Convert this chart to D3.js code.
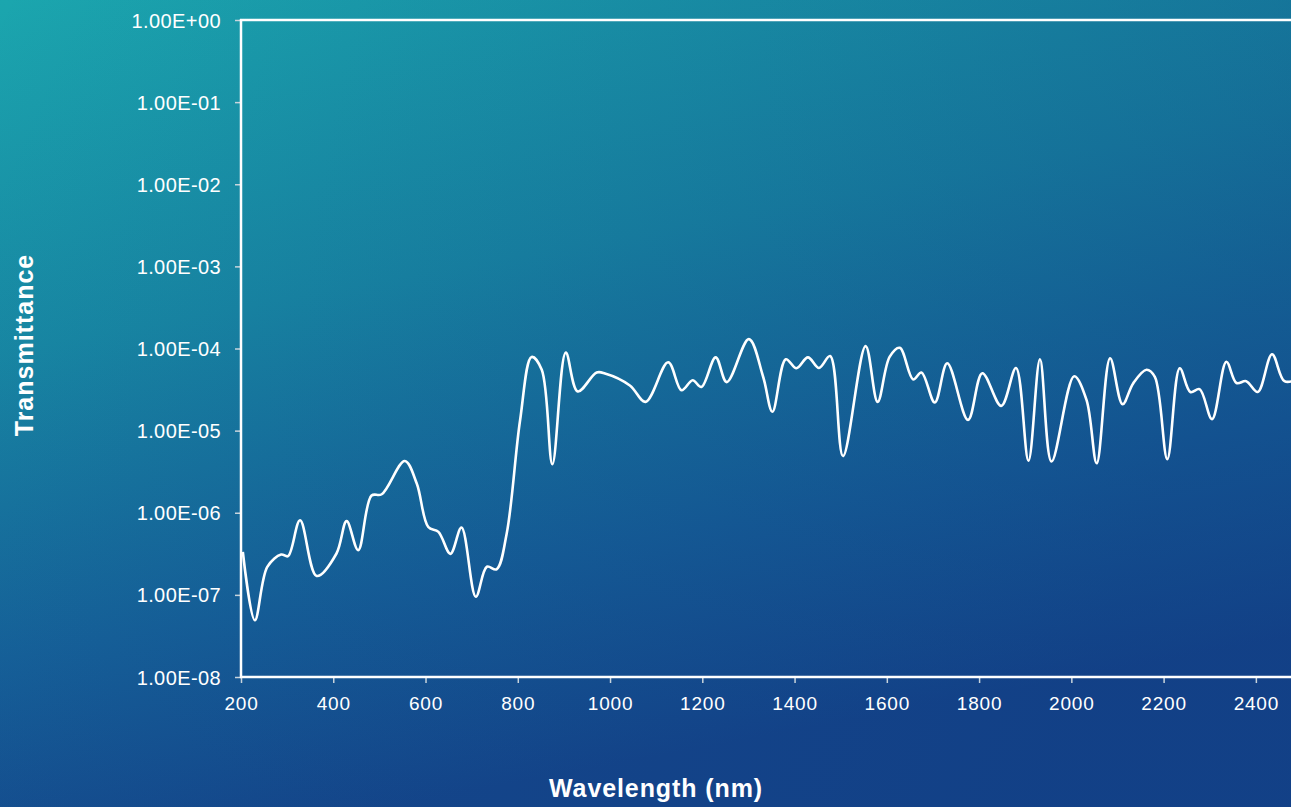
<!DOCTYPE html>
<html><head><meta charset="utf-8">
<script src="https://cdn.jsdelivr.net/npm/d3@7/dist/d3.min.js"></script>
<style>
html,body{margin:0;padding:0;overflow:hidden;background:#156590;}
svg{display:block;font-family:"Liberation Sans",Arial,sans-serif;}
</style></head>
<body>
<svg id="chart" width="1291" height="807"></svg>
<script>
// Data
const wavelengths = [204,230,257,287,302,328,364,407,429,454,483,505,555,581,606,628,654,678,709,733,754,776,805,830,852,875,904,930,971,989,1043,1077,1126,1155,1179,1198,1229,1253,1301,1332,1352,1381,1404,1429,1453,1477,1505,1554,1580,1606,1628,1657,1675,1704,1731,1776,1807,1848,1880,1907,1932,1957,2006,2033,2055,2084,2111,2134,2163,2181,2208,2235,2258,2278,2305,2336,2358,2379,2404,2435,2462,2490];
const transmittance = [3.34e-7,4.9e-8,2.19e-7,3.1e-7,2.96e-7,8.1e-7,1.7e-7,3.19e-7,7.9e-7,3.5e-7,1.62e-6,1.68e-6,4.27e-6,2.27e-6,6.7e-7,5.85e-7,3.16e-7,6.6e-7,9.5e-8,2.2e-7,2.05e-7,5.6e-7,1.34e-5,7.9e-5,5.5e-5,3.9e-6,8.9e-5,3.0e-5,5.1e-5,4.97e-5,3.55e-5,2.24e-5,6.8e-5,3.1e-5,4.1e-5,3.4e-5,7.8e-5,3.9e-5,1.30e-4,4.5e-5,1.7e-5,7.4e-5,5.75e-5,7.8e-5,5.8e-5,8.1e-5,4.9e-6,1.07e-4,2.24e-5,7.9e-5,1.02e-4,4.2e-5,5.1e-5,2.2e-5,6.6e-5,1.35e-5,5.0e-5,2.0e-5,5.8e-5,4.3e-6,7.4e-5,4.2e-6,4.6e-5,2.35e-5,4.0e-6,7.6e-5,2.1e-5,3.76e-5,5.5e-5,4.5e-5,4.5e-6,5.75e-5,2.95e-5,3.2e-5,1.38e-5,6.9e-5,3.8e-5,4.0e-5,2.95e-5,8.5e-5,4.0e-5,4.2e-5];
const xTicks = [200,400,600,800,1000,1200,1400,1600,1800,2000,2200,2400];
const yTicks = [1,1e-1,1e-2,1e-3,1e-4,1e-5,1e-6,1e-7,1e-8];
const yTickLabels = ["1.00E+00","1.00E-01","1.00E-02","1.00E-03","1.00E-04","1.00E-05","1.00E-06","1.00E-07","1.00E-08"];
const xLabel = "Wavelength (nm)";
const yLabel = "Transmittance";

const W = 1291, H = 807;
const svg = d3.select("#chart");

// Background
const defs = svg.append("defs");
const g1 = defs.append("linearGradient").attr("id","bg")
  .attr("x1","0").attr("y1","0").attr("x2","0.3").attr("y2","1");
[["0%","#1ba6ae"],["40%","#1889a4"],["75%","#16639a"],["100%","#154a8d"]]
  .forEach(s=>g1.append("stop").attr("offset",s[0]).attr("stop-color",s[1]));
svg.append("rect").attr("width",W).attr("height",H).attr("fill","url(#bg)");
const g3 = defs.append("linearGradient").attr("id","shade")
  .attr("x1","0").attr("y1","0").attr("x2","1").attr("y2","0.3");
g3.append("stop").attr("offset","0%").attr("stop-color","#0c2a78").attr("stop-opacity",0);
g3.append("stop").attr("offset","100%").attr("stop-color","#0c2a78").attr("stop-opacity",0.3);
svg.append("rect").attr("width",W).attr("height",H).attr("fill","url(#shade)");

// Scales
const x = d3.scaleLinear().domain([200,2500]).range([241,1302]);
const y = d3.scaleLog().domain([1e-8,1]).range([677,20]);

defs.append("clipPath").attr("id","clip").append("rect")
  .attr("x",241).attr("y",0).attr("width",W-241).attr("height",700);

// Y axis
const yAxis = d3.axisLeft(y).tickValues(yTicks).tickSize(6)
  .tickFormat((d,i)=>yTickLabels[i]);
const gy = svg.append("g").attr("transform","translate(241,0)").call(yAxis);
gy.select(".domain").remove();
gy.selectAll(".tick line").attr("stroke","#c8d4dc").attr("stroke-width",1.5);
gy.selectAll(".tick text").attr("fill","#fff").attr("font-size",20)
  .attr("letter-spacing","0.4px").attr("x",-20).attr("dy","0.35em");

// X axis
const xAxis = d3.axisBottom(x).tickValues(xTicks).tickSize(6).tickFormat(d3.format("d"));
const gx = svg.append("g").attr("transform","translate(0,677)").call(xAxis);
gx.select(".domain").remove();
gx.selectAll(".tick line").attr("stroke","#c8d4dc").attr("stroke-width",1.5);
gx.selectAll(".tick text").attr("fill","#fff").attr("font-size",19)
  .attr("letter-spacing","0.8px").attr("y",32.5).attr("dy","0");

// Frame lines
svg.append("line").attr("x1",241).attr("x2",241).attr("y1",19).attr("y2",678)
  .attr("stroke","#fff").attr("stroke-width",2.5);
svg.append("line").attr("x1",240).attr("x2",W).attr("y1",20).attr("y2",20)
  .attr("stroke","#fff").attr("stroke-width",2.5);
svg.append("line").attr("x1",240).attr("x2",W).attr("y1",677).attr("y2",677)
  .attr("stroke","#fff").attr("stroke-width",2.5);

// Line
const data = wavelengths.map((w,i)=>({w, t: transmittance[i]}));
const line = d3.line().x(d=>x(d.w)).y(d=>y(d.t)).curve(d3.curveCatmullRom.alpha(0.5));
svg.append("path").datum(data).attr("d",line).attr("clip-path","url(#clip)")
  .attr("fill","none").attr("stroke","#fff").attr("stroke-width",2.6)
  .attr("stroke-linejoin","round");

// Axis titles
svg.append("text").attr("x",656).attr("y",797).attr("text-anchor","middle")
  .attr("fill","#fff").attr("font-weight","bold").attr("font-size",25)
  .attr("letter-spacing","0.9px").text(xLabel);
svg.append("text").attr("transform","translate(33,345) rotate(-90)").attr("text-anchor","middle")
  .attr("fill","#fff").attr("font-weight","bold").attr("font-size",25)
  .attr("letter-spacing","1px").text(yLabel);
</script>
</body></html>
